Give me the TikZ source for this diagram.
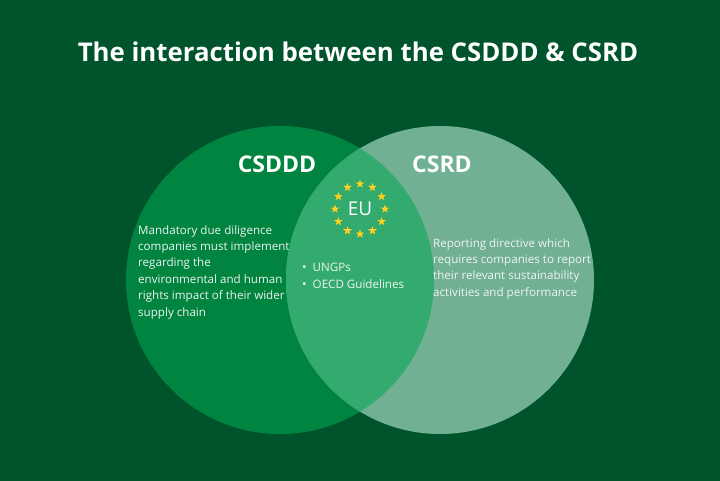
\documentclass[tikz,border=0pt]{standalone}
\usepackage{fontspec}
\setmainfont{Open Sans}
\definecolor{bg}{HTML}{00542B}
\definecolor{leftc}{HTML}{00843F}
\definecolor{rightc}{HTML}{72B094}
\definecolor{midc}{HTML}{33AA6E}
\definecolor{starc}{HTML}{FFD21F}
\definecolor{bodytxt}{HTML}{EEF4EF}
\begin{document}
\begin{tikzpicture}[x=1pt,y=-1pt,
  venn/.style={circle, minimum size=308pt, inner sep=0pt},
  heading/.style={text=white, font=\bfseries\fontsize{23}{26}\selectfont, inner sep=0pt},
  body/.style={text=bodytxt, font=\fontsize{11.6}{16.4}\selectfont, align=left, inner sep=0pt, anchor=north west}]
\fill[bg] (0,0) rectangle (720,481);
\useasboundingbox (0,0) rectangle (720,481);
\node[text=white, font=\bfseries\fontsize{25.8}{30}\selectfont, inner sep=0pt] (title) at (358,52) {The interaction between the CSDDD \& CSRD};
\node[venn, fill=leftc] (csddd) at (280,280) {};
\node[venn, fill=rightc] (csrd) at (440,280) {};
\begin{scope}
  \clip (280,280) circle (154);
  \fill[midc] (440,280) circle (154);
\end{scope}
\node[heading] (lcs) at (277,164) {CSDDD};
\node[heading] (rcs) at (442,164) {CSRD};
\node[text=white, font=\fontsize{19}{22}\selectfont, inner sep=0pt] (eu) at (360,209) {EU};
\foreach \i in {0,...,11} {
  \coordinate (s\i) at ({360+25*cos(90-30*\i)},{209-25*sin(90-30*\i)});
  \begin{scope}[shift={(s\i)}]
    \fill[starc] (270:4.6) -- (306:1.8) -- (342:4.6) -- (18:1.8) -- (54:4.6) -- (90:1.8) -- (126:4.6) -- (162:1.8) -- (198:4.6) -- (234:1.8) -- cycle;
  \end{scope}
}
\node[body] (ltext) at (138,225) {Mandatory due diligence\\companies must implement\\regarding the\\environmental and human\\rights impact of their wider\\supply chain};
\node[body, font=\fontsize{11.6}{17}\selectfont] (mtext) at (302,263) {{\large\textbullet}\hspace{6pt}UNGPs\\{\large\textbullet}\hspace{6pt}OECD Guidelines};
\node[body] (rtext) at (433,238) {Reporting directive which\\requires companies to report\\their relevant sustainability\\activities and performance};
\end{tikzpicture}
\end{document}
